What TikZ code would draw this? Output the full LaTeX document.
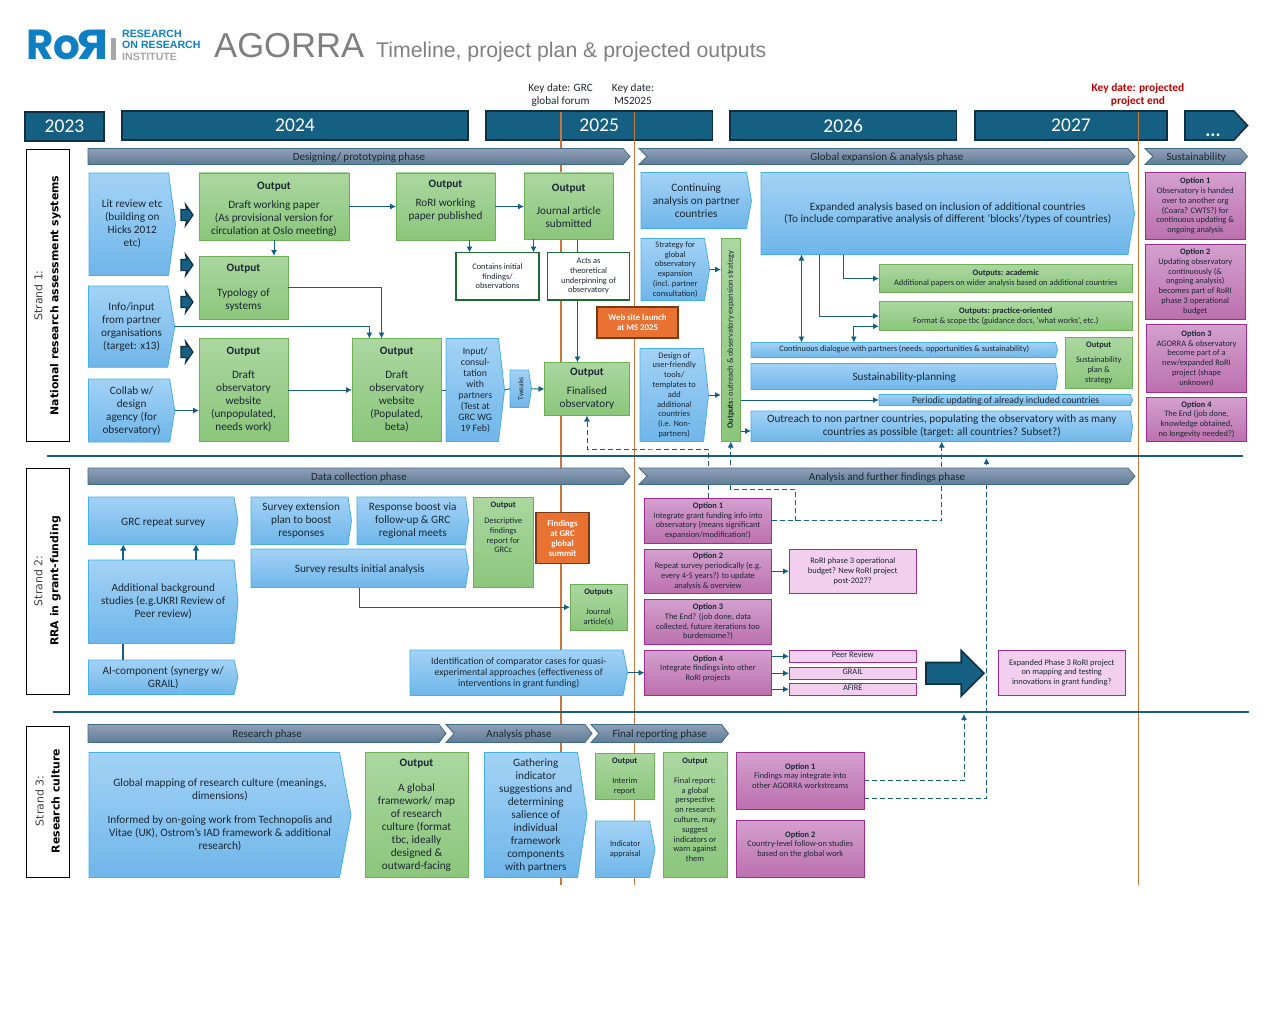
\documentclass[tikz,border=0pt]{standalone}
\usepackage{fontspec}
\setmainfont{Carlito}
\newfontfamily\strandfont{DejaVu Sans}
\newfontfamily\headfont{Liberation Sans}
\newfontfamily\logofont{Poppins}
\usetikzlibrary{positioning, calc, arrows.meta, shapes.arrows, backgrounds}
\definecolor{barblue}{HTML}{156082}
\definecolor{barnavy}{HTML}{0E2F44}
\definecolor{keyline}{HTML}{C8763C}
\definecolor{keyred}{HTML}{C00000}
\definecolor{ink}{HTML}{1B2733}
\definecolor{platetop}{HTML}{A3D2F6}
\definecolor{platebot}{HTML}{6FB6E9}
\definecolor{plateline}{HTML}{45B0E1}
\definecolor{greentop}{HTML}{ABD7A0}
\definecolor{greenbot}{HTML}{8BC67B}
\definecolor{greenline}{HTML}{6DAF55}
\definecolor{greendark}{HTML}{1F6B34}
\definecolor{purpletop}{HTML}{D3A0CE}
\definecolor{purplebot}{HTML}{BC70AE}
\definecolor{purpleline}{HTML}{A02B93}
\definecolor{pinkfill}{HTML}{F2CEEF}
\definecolor{phasetop}{HTML}{919FB8}
\definecolor{phasebot}{HTML}{5E7E95}
\definecolor{phaseline}{HTML}{3F6C86}
\definecolor{orangefill}{HTML}{E97132}
\definecolor{orangeline}{HTML}{7A3A14}
\definecolor{logoblue}{HTML}{0F7FC4}
\definecolor{logogray}{HTML}{A6A6A6}
\definecolor{headgray}{HTML}{7F7F7F}
\newcommand{\platenode}[8][]{%
  \path[platefill] (#3,#4) -- ({#5-#7},#4) -- (#5,{(#4+#6)/2}) -- ({#5-#7},#6) -- (#3,#6) -- cycle;
  \node[body,box={#3}{#4}{#5}{#6},#1] (#2) {#8};
}
\newcommand{\phasebar}[7]{%
  \path[phasefill] (#2,#3) -- ({#4-7},#3) -- (#4,{(#3+#5)/2}) -- ({#4-7},#5) -- (#2,#5) -- ({#2+#6},{(#3+#5)/2}) -- cycle;
  \node[phasetxt,box={#2}{#3}{#4}{#5}] (#1) {#7};
}

\begin{document}
\begin{tikzpicture}[x=1pt, y=-1pt,
    box/.style n args={4}{at={({(#1+#3)/2},{(#2+#4)/2})}, minimum width={#3-#1}, minimum height={#4-#2}},
    body/.style={font=\fontsize{11.25}{13}\selectfont, text=ink, align=center, inner sep=0pt, outer sep=0pt, execute at begin node={\rule{0pt}{0.95em}}},
    midtxt/.style={font=\fontsize{9.8}{11}\selectfont},
    smalltxt/.style={font=\fontsize{8.4}{9.8}\selectfont},
    platefill/.style={top color=platetop, bottom color=platebot, draw=plateline, line width=0.8pt},
    phasefill/.style={top color=phasetop, bottom color=phasebot, draw=phaseline, line width=0.8pt},
    phasetxt/.style={body, font=\fontsize{11}{12}\selectfont},
    yearbar/.style={draw=barnavy, line width=1.6pt, fill=barblue, text=white, font=\fontsize{19.5}{22}\selectfont, inner sep=0pt, outer sep=0pt},
    strandbox/.style={draw=black, fill=white, line width=0.8pt, inner sep=0pt, outer sep=0pt},
    strandlbl/.style={rotate=90, align=center, font=\strandfont\fontsize{10.9}{16}\selectfont, text=black!75},
    keydate/.style={align=center, font=\fontsize{11.2}{13}\selectfont, text=ink, inner sep=0pt},
    outbox/.style={body, draw=greenline, line width=0.8pt, top color=greentop, bottom color=greenbot},
    optbox/.style={body, smalltxt, draw=purpleline, line width=0.8pt, top color=purpletop, bottom color=purplebot},
    pinkbox/.style={body, smalltxt, draw=purpleline, line width=0.8pt, fill=pinkfill},
    notebox/.style={body, smalltxt, draw=greendark, line width=1.6pt, fill=white},
    flagbox/.style={body, font=\bfseries\fontsize{8.8}{10}\selectfont, text=white, draw=orangeline, line width=1.6pt, fill=orangefill},
    link/.style={draw=barblue, line width=0.9pt, -{Latex[length=6pt,width=6pt]}},
    plainlink/.style={draw=barblue, line width=0.9pt},
    duallink/.style={draw=barblue, line width=0.9pt, {Latex[length=6pt,width=6pt]}-{Latex[length=6pt,width=6pt]}},
    heavylink/.style={draw=barblue, line width=1.6pt, -{Latex[length=6pt,width=7pt]}},
    dashlink/.style={draw=barblue, line width=0.9pt, dash pattern=on 5pt off 3pt, -{Latex[length=6pt,width=6pt]}},
    blockarrow/.style={single arrow, anchor=tail, draw=barnavy, line width=1.2pt, fill=barblue, inner sep=0pt, outer sep=0pt},
    pusharrow/.style={blockarrow, single arrow tip angle=110, single arrow head indent=1pt, single arrow head extend=5pt, minimum height=12pt},
    rulerline/.style={draw=barblue, line width=2pt}]
  \useasboundingbox (0,0) rectangle (1280,1022);

  % heading
  \node[anchor=base west, inner sep=0pt, text=logoblue, font=\logofont\bfseries\fontsize{42}{42}\selectfont] (logoRo) at (26,60) {Ro};
  \node[anchor=base west, inner sep=0pt, text=logoblue, font=\logofont\bfseries\fontsize{42}{42}\selectfont] (logoRr) at (76.5,60) {\scalebox{-1.15}[1]{R}};
  \node[fill=logogray, inner sep=0pt, box={111}{38}{115.5}{60}] (logoBar) {};
  \node[anchor=west, inner sep=0pt, text=logoblue, font=\headfont\bfseries\fontsize{10.6}{11.6}\selectfont, align=left] (logoName) at (122,39.5) {RESEARCH\\ON RESEARCH};
  \node[anchor=west, inner sep=0pt, text=logogray, font=\headfont\bfseries\fontsize{10.6}{11.6}\selectfont] (logoInst) at (122,57) {INSTITUTE};
  \node[anchor=base west, inner sep=0pt, text=headgray, font=\headfont\fontsize{34.6}{36}\selectfont] (title) at (214,58) {AGORRA};
  \node[anchor=base west, inner sep=0pt, text=headgray, font=\headfont\fontsize{21.25}{24}\selectfont] (subtitle) at (376,58) {Timeline, project plan \& projected outputs};

  % years
  \node[yearbar, box={25}{112}{104}{141}] (y2023) {2023};
  \node[yearbar, box={122}{111}{468}{140}] (y2024) {2024};
  \node[yearbar, box={486}{111}{712.5}{140}] (y2025) {2025};
  \node[yearbar, box={730}{111}{956.5}{140}] (y2026) {2026};
  \node[yearbar, box={975}{111}{1167}{140}] (y2027) {2027};
  \path[yearbar] (1185,111) -- (1234,111) -- (1247.5,125.5) -- (1234,140) -- (1185,140) -- cycle;
  \node[body, text=white, font=\bfseries\fontsize{19}{20}\selectfont] (yMore) at (1213,128) {...};

  \node[keydate] (keyGrc) at (560.5,95) {Key date: GRC\\global forum};
  \node[keydate] (keyMs) at (633,94) {Key date:\\MS2025};
  \node[keydate, text=keyred, font=\bfseries\fontsize{11.4}{13}\selectfont] (keyEnd) at (1138,95) {Key date: projected\\project end};

  \coordinate (grcTop) at (561,112);
  \coordinate (grcEnd) at (561,885);
  \coordinate (msTop) at (634.7,112);
  \coordinate (msEnd) at (634.7,885);
  \coordinate (endTop) at (1138.6,112);
  \coordinate (endEnd) at (1138.6,885);
  \draw[keyline, line width=1.1pt] (grcTop) -- (grcEnd);
  \draw[keyline, line width=1.1pt] (msTop) -- (msEnd);
  \draw[keyline, line width=1.1pt] (endTop) -- (endEnd);

  \coordinate (ruleAa) at (47,456);
  \coordinate (ruleAb) at (1243,456);
  \coordinate (ruleBa) at (53,711.5);
  \coordinate (ruleBb) at (1249,711.5);
  \draw[rulerline] (ruleAa) -- (ruleAb);
  \draw[rulerline] (ruleBa) -- (ruleBb);

  % strand labels
  \node[strandbox, box={26}{149.5}{69}{441.5}] (strandA) {};
  \node[strandlbl] (strandAtxt) at (47.5,295.5) {Strand 1:\\\textcolor{black}{\bfseries National research assessment systems}};
  \node[strandbox, box={26}{468}{69}{694}] (strandB) {};
  \node[strandlbl] (strandBtxt) at (47.5,581) {Strand 2:\\\textcolor{black}{\bfseries RRA in grant-funding}};
  \node[strandbox, box={26}{726}{69}{877}] (strandC) {};
  \node[strandlbl] (strandCtxt) at (47.5,801) {Strand 3:\\\textcolor{black}{\bfseries Research culture}};

  % phases
  \phasebar{phDesign}{88}{148.5}{630}{164.5}{0}{Designing/ prototyping phase}
  \phasebar{phGlobal}{639}{148.5}{1135}{164.5}{8}{Global expansion \& analysis phase}
  \phasebar{phSustain}{1145}{148.5}{1247.5}{164.5}{8}{Sustainability}
  \phasebar{phData}{88}{468}{630}{484.5}{0}{Data collection phase}
  \phasebar{phFurther}{639}{468}{1135}{484.5}{8}{Analysis and further findings phase}
  \phasebar{phResearch}{88}{724.5}{446}{742.5}{0}{Research phase}
  \phasebar{phAnalysis}{446}{724.5}{592}{742.5}{8}{Analysis phase}
  \phasebar{phFinal}{591}{724.5}{728.5}{742.5}{8}{Final reporting phase}

  % strand 1
  \platenode{lit}{89}{173}{175.5}{275.5}{7}{Lit review etc\\(building on\\Hicks 2012\\etc)}
  \platenode{info}{88.5}{286}{174.7}{367.3}{7}{Info/input\\from partner\\organisations\\(target: x13)}
  \platenode{collab}{88.5}{379}{174.7}{442}{5}{Collab w/\\design\\agency (for\\observatory)}
  \node[pusharrow] (pushA) at (181,215) {\rule{0pt}{10pt}};
  \node[pusharrow] (pushB) at (181,265) {\rule{0pt}{10pt}};
  \node[pusharrow] (pushC) at (181,302) {\rule{0pt}{10pt}};
  \node[pusharrow] (pushD) at (181,352) {\rule{0pt}{10pt}};
  \node[outbox, box={199}{173}{349}{240}] (wpDraft) {\rule{0pt}{1.12em}\textbf{Output}\\[6pt]Draft working paper\\(As provisional version for\\circulation at Oslo meeting)};
  \node[outbox, box={396}{173}{495}{240}] (wpRori) {\textbf{Output}\\[6pt]RoRI working\\paper published\\~};
  \node[outbox, box={524}{173}{613.5}{239}] (article) {\textbf{Output}\\[10pt]Journal article\\submitted};
  \node[outbox, box={199}{256}{288}{319.5}] (typology) {\textbf{Output}\\[12pt]Typology of\\systems};
  \node[outbox, box={199}{338.5}{288}{441.5}] (obsDraft) {\textbf{Output}\\[11pt]Draft\\observatory\\website\\(unpopulated,\\needs work)};
  \node[outbox, box={352}{338.5}{441.5}{441.5}] (obsBeta) {\textbf{Output}\\[11pt]Draft\\observatory\\website\\(Populated,\\beta)};
  \platenode[midtxt]{consult}{446}{338.5}{504.5}{441.5}{6}{Input/\\consul-\\tation\\with\\partners\\(Test at\\GRC WG\\19 Feb)}
  \platenode[font=\fontsize{7.6}{9}\selectfont]{tweaks}{510}{370}{531.5}{407.5}{3}{\rotatebox{90}{Tweaks}}
  \node[outbox, box={544.5}{362.5}{629.5}{415.5}] (final) {\textbf{Output}\\[6pt]Finalised\\observatory};
  \node[notebox, box={456}{252.5}{539}{300}] (contains) {Contains initial\\findings/\\observations};
  \node[notebox, box={547.5}{252.5}{629.5}{300}] (acts) {Acts as\\theoretical\\underpinning of\\observatory};
  \node[flagbox, box={597}{307}{678}{338}] (launch) {Web site launch\\at MS 2025};

  \draw[link] (wpDraft.east) -- (wpRori.west);
  \draw[link] (wpRori.east) -- (wpRori.east -| article.west);
  \draw[link] (wpDraft.south) -- (wpDraft.south |- typology.north);
  \draw[link] ([xshift=-28pt]contains.north |- wpRori.south) -- ([xshift=-28pt]contains.north);
  \draw[link] ([xshift=36pt]contains.north |- article.south) -- ([xshift=36pt]contains.north);
  \draw[link] (typology.east) -| ([xshift=-15.2pt]obsBeta.north);
  \draw[link] (info.east) -| ([xshift=-27.4pt]obsBeta.north);
  \draw[link] (collab.east) -- (collab.east -| obsDraft.west);
  \draw[link] (obsDraft.east) -- (obsBeta.west);
  \draw[plainlink] (obsBeta.east) -- (consult.west);
  \draw[plainlink] (consult.east) -- (tweaks.west);
  \draw[link] (tweaks.east) -- (final.west);
  \begin{scope}[on background layer]
    \draw[link] ([xshift=-9.5pt]final.north |- article.south) -- ([xshift=-9.5pt]final.north);
  \end{scope}

  \platenode{contAn}{641}{172.5}{751.5}{228.5}{5}{Continuing\\analysis on partner\\countries}
  \platenode{expand}{761}{172.5}{1134.5}{254.5}{6.5}{Expanded analysis based on inclusion of additional countries\\(To include comparative analysis of different ‘blocks’/types of countries)}
  \platenode[smalltxt]{strategy}{641}{238.5}{709.5}{300.5}{5}{Strategy for\\global\\observatory\\expansion\\(incl. partner\\consultation)}
  \platenode[smalltxt]{design}{640}{348.5}{708.5}{441.5}{5}{Design of\\user-friendly\\tools/\\templates to\\add\\additional\\countries\\(i.e. Non-\\partners)}
  \node[outbox, font=\fontsize{8.3}{9}\selectfont, box={721}{238.5}{740.5}{441.5}] (outBar) {\rotatebox{90}{\textbf{Outputs:} outreach \& observatory expansion strategy}};
  \node[outbox, smalltxt, box={879}{264.5}{1132.5}{292.5}] (academic) {\textbf{Outputs: academic}\\Additional papers on wider analysis based on additional countries};
  \node[outbox, smalltxt, box={879}{301.5}{1132.5}{330.5}] (practice) {\textbf{Outputs: practice-oriented}\\Format \& scope tbc (guidance docs, ‘what works’, etc.)};
  \platenode[smalltxt]{dialog}{751}{342.5}{1057.5}{357.5}{2}{\raisebox{3pt}{Continuous dialogue with partners (needs, opportunities \& sustainability)}}
  \platenode{planning}{751}{363.5}{1057.5}{389.5}{2}{Sustainability-planning}
  \node[outbox, smalltxt, box={1065}{337.5}{1132.5}{388.5}] (susPlan) {\textbf{Output}\\[5pt]Sustainability\\plan \&\\strategy};
  \platenode[midtxt]{periodic}{879}{394.5}{1132.5}{405.5}{2}{Periodic updating of already included countries}
  \platenode{outreach}{751}{411}{1132.5}{441.5}{2}{Outreach to non partner countries, populating the observatory with as many\\countries as possible (target: all countries? Subset?)}
  \node[optbox, box={1145}{172.5}{1245.5}{239.5}] (optAa) {\textbf{Option 1}\\Observatory is handed\\over to another org\\(Coara? CWTS?) for\\continuous updating \&\\ongoing analysis};
  \node[optbox, box={1145}{244}{1245.5}{319.5}] (optAb) {\textbf{Option 2}\\Updating observatory\\continuously (\&\\ongoing analysis)\\becomes part of RoRI\\phase 3 operational\\budget};
  \node[optbox, box={1146.5}{324.5}{1246.5}{392.5}] (optAc) {\textbf{Option 3}\\AGORRA \& observatory\\become part of a\\new/expanded RoRI\\project (shape\\unknown)};
  \node[optbox, box={1146.5}{397.5}{1246.5}{441.5}] (optAd) {\textbf{Option 4}\\The End (job done,\\knowledge obtained,\\no longevity needed?)};

  \draw[link] (strategy.east) -- (strategy.east -| outBar.west);
  \draw[link] (design.east) -- (design.east -| outBar.west);
  \draw[link] (periodic.west -| outBar.east) -- (periodic.west);
  \draw[link] ([yshift=-4.7pt]outreach.west -| outBar.east) -- ([yshift=-4.7pt]outreach.west);
  \draw[duallink] ([xshift=-146.3pt]expand.south) -- ([xshift=-146.3pt]expand.south |- dialog.north);
  \draw[link] ([xshift=-128.3pt]expand.south) |- (practice.west);
  \draw[link] ([xshift=-104.2pt]expand.south) |- (academic.west);
  \draw[duallink] ([xshift=-50.4pt]dialog.north) |- ([yshift=-10.3pt]practice.west);

  % strand 2
  \platenode{grcSurvey}{88.5}{497}{238}{544.5}{4}{GRC repeat survey}
  \platenode{background}{88.5}{560}{238}{643.5}{4}{Additional background\\studies (e.g.UKRI Review of\\Peer review)}
  \platenode{aiComp}{88.5}{660}{238}{694.5}{4}{AI-component (synergy w/\\GRAIL)}
  \platenode{extension}{251}{497}{351.5}{544.5}{3.5}{Survey extension\\plan to boost\\responses}
  \platenode{boost}{357}{497}{468.5}{544.5}{3}{Response boost via\\follow-up \& GRC\\regional meets}
  \platenode{initial}{251}{549}{468.5}{587.5}{3}{Survey results initial analysis}
  \node[outbox, smalltxt, box={473.5}{497}{533}{587.5}] (descript) {\textbf{Output}\\[6pt]Descriptive\\findings\\report for\\GRCc\\~\\~\\~};
  \node[flagbox, box={536}{512.5}{589}{563.5}] (summit) {Findings\\at GRC\\global\\summit};
  \node[outbox, smalltxt, box={570}{584}{627}{630.5}] (journal) {\textbf{Outputs}\\[10pt]Journal\\article(s)};
  \platenode[midtxt]{ident}{410}{650}{627.5}{695.5}{4.5}{Identification of comparator cases for quasi-\\experimental approaches (effectiveness of\\interventions in grant funding)}
  \node[optbox, box={644.5}{498}{771.5}{543.5}] (optGa) {\textbf{Option 1}\\Integrate grant funding info into\\observatory (means significant\\expansion/modification!)};
  \node[optbox, box={644.5}{549}{771.5}{593.5}] (optGb) {\textbf{Option 2}\\Repeat survey periodically (e.g.\\every 4-5 years?) to update\\analysis \& overview};
  \node[optbox, box={644.5}{599}{771.5}{644.5}] (optGc) {\textbf{Option 3}\\The End? (job done, data\\collected, future iterations too\\burdensome?)};
  \node[optbox, box={644.5}{650}{771.5}{695.5}] (optGd) {\textbf{Option 4}\\Integrate findings into other\\RoRI projects\\~};
  \node[pinkbox, box={789}{549}{916.5}{593.5}] (budget) {RoRI phase 3 operational\\budget? New RoRI project\\post-2027?};
  \node[pinkbox, box={789}{650}{916.5}{662.5}] (peer) {\raisebox{2.5pt}{Peer Review}};
  \node[pinkbox, box={789}{667}{916.5}{679.5}] (grail) {\raisebox{2.5pt}{GRAIL}};
  \node[pinkbox, box={789}{683}{916.5}{695.5}] (afire) {\raisebox{2.5pt}{AFIRE}};
  \node[blockarrow, line width=1.6pt, single arrow head extend=12pt, minimum height=58pt] (bigPush) at (926,673.3) {\rule{0pt}{20pt}};
  \node[pinkbox, box={998}{650}{1125.5}{695.5}] (phaseThree) {Expanded Phase 3 RoRI project\\on mapping and testing\\innovations in grant funding?};

  \draw[heavylink] ([xshift=-40pt]background.north) -- ([xshift=-40pt]grcSurvey.south);
  \draw[heavylink] ([xshift=32.7pt]background.north) -- ([xshift=32.7pt]grcSurvey.south);
  \draw[plainlink, line width=1.6pt] ([xshift=-40pt]aiComp.north) -- ([xshift=-40pt]background.south);
  \draw[link] (initial.south) |- (journal.west);
  \draw[link] (ident.east) -- (optGd.west);
  \draw[link] (optGb.east) -- (budget.west);
  \draw[link] (peer.west -| optGd.east) -- (peer.west);
  \draw[link] (grail.west -| optGd.east) -- (grail.west);
  \draw[link] (afire.west -| optGd.east) -- (afire.west);

  % strand 3
  \platenode{mapping}{89}{752.5}{351}{877.5}{11.5}{Global mapping of research culture (meanings,\\dimensions)\\[11pt]Informed by on-going work from Technopolis and\\Vitae (UK), Ostrom’s IAD framework \& additional\\research)}
  \node[outbox, box={365}{752.5}{468}{877.5}] (framework) {\textbf{Output}\\[12pt]A global\\framework/ map\\of research\\culture (format\\tbc, ideally\\designed \&\\outward-facing};
  \platenode{gathering}{484.5}{752.5}{587}{877.5}{9.5}{Gathering\\indicator\\suggestions and\\determining\\salience of\\individual\\framework\\components\\with partners}
  \node[outbox, smalltxt, box={595.5}{753}{654}{799.5}] (interim) {\textbf{Output}\\[10pt]Interim\\report};
  \platenode[smalltxt]{appraisal}{595.5}{821}{655}{877.5}{5.5}{Indicator\\appraisal}
  \node[outbox, smalltxt, box={663}{752}{727}{877.5}] (finalRep) {\textbf{Output}\\[10pt]Final report:\\a global\\perspective\\on research\\culture, may\\suggest\\indicators or\\warn against\\them\\~};
  \node[optbox, box={736.5}{752}{864}{809.5}] (optSa) {\textbf{Option 1}\\Findings may integrate into\\other AGORRA workstreams\\~};
  \node[optbox, box={736.5}{820}{864}{877.5}] (optSb) {\textbf{Option 2}\\Country-level follow-on studies\\based on the global work\\~};

  % long dashed links
  \coordinate (busFinal) at (650,449);
  \coordinate (busSplit) at (795.3,489.3);
  \coordinate (tipRuleB) at (964,714);
  \coordinate (tipRuleA) at (986.5,458);
  \begin{scope}[on background layer]
    \draw[dashlink] (optGa.north) |- (busFinal) -| (final.south);
    \draw[dashlink] (optGa.east) -| (outreach.south);
    \draw[dashlink] (optGa.east -| busSplit) -- (busSplit) -| (outBar.south);
    \draw[dashlink] (optSa.east) -| (tipRuleB);
    \draw[dashlink] ([yshift=-17.6pt]optSa.east) -| (tipRuleA);
  \end{scope}
\end{tikzpicture}
\end{document}
